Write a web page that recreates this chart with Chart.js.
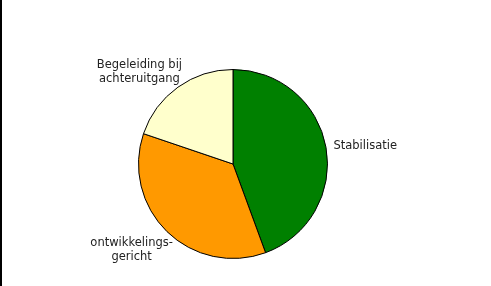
<!DOCTYPE html>
<html>
<head>
<meta charset="utf-8">
<script src="https://cdn.jsdelivr.net/npm/chart.js@4"></script>
<style>
  html, body { margin: 0; padding: 0; background: #fff; }
  #wrap { width: 491px; height: 286px; }
</style>
</head>
<body>
<div id="wrap"><canvas id="pieChart" width="491" height="286"></canvas></div>
<script>
const labels = ["Stabilisatie", "ontwikkelings-\ngericht", "Begeleiding bij\nachteruitgang"];
const values = [44.4, 35.8, 19.8];
const colors = ["#008000", "#FF9900", "#FFFFCC"];

// small manual nudges of the label boxes, like the hand-placed labels in the original
const labelNudge = [[0, 1], [-1, 3], [-9, 3]];

// labels outside the slices, Excel style
const outsideLabels = {
  id: "outsideLabels",
  afterDatasetsDraw(chart) {
    const ctx = chart.ctx;
    const meta = chart.getDatasetMeta(0);
    ctx.save();
    ctx.font = "11.5px 'DejaVu Sans'";
    ctx.fillStyle = "#222";
    ctx.textBaseline = "middle";
    ctx.textAlign = "center";
    const lineH = 14;
    meta.data.forEach((arc, i) => {
      const p = arc.getProps(["x", "y", "startAngle", "endAngle", "outerRadius"], true);
      const mid = (p.startAngle + p.endAngle) / 2;
      const dx = Math.cos(mid), dy = Math.sin(mid);
      const lines = labels[i].split("\n");
      const w = Math.max(...lines.map(l => ctx.measureText(l).width));
      const h = lines.length * lineH;
      const r = p.outerRadius + 8;
      const cx = p.x + dx * r + dx * w / 2 + labelNudge[i][0];
      const cy = p.y + dy * r + dy * h / 2 + labelNudge[i][1];
      lines.forEach((l, k) => {
        ctx.fillText(l, cx, cy - h / 2 + lineH / 2 + k * lineH);
      });
    });
    ctx.restore();
  },
  beforeDraw(chart) {
    const ctx = chart.ctx;
    ctx.save();
    ctx.fillStyle = "#fff";
    ctx.fillRect(0, 0, chart.width, chart.height);
    ctx.fillStyle = "#000";
    ctx.fillRect(0, 0, 2, chart.height);
    ctx.restore();
  }
};

const config = {
  type: "pie",
  data: {
    labels: labels,
    datasets: [{
      data: values,
      backgroundColor: colors,
      borderColor: "#000",
      borderWidth: 1
    }]
  },
  options: {
    responsive: false,
    animation: false,
    layout: { padding: { top: 69, bottom: 27, left: 100, right: 125 } },
    plugins: {
      legend: { display: false },
      tooltip: { enabled: false }
    }
  },
  plugins: [outsideLabels]
};

new Chart(document.getElementById("pieChart"), config);
</script>
</body>
</html>
